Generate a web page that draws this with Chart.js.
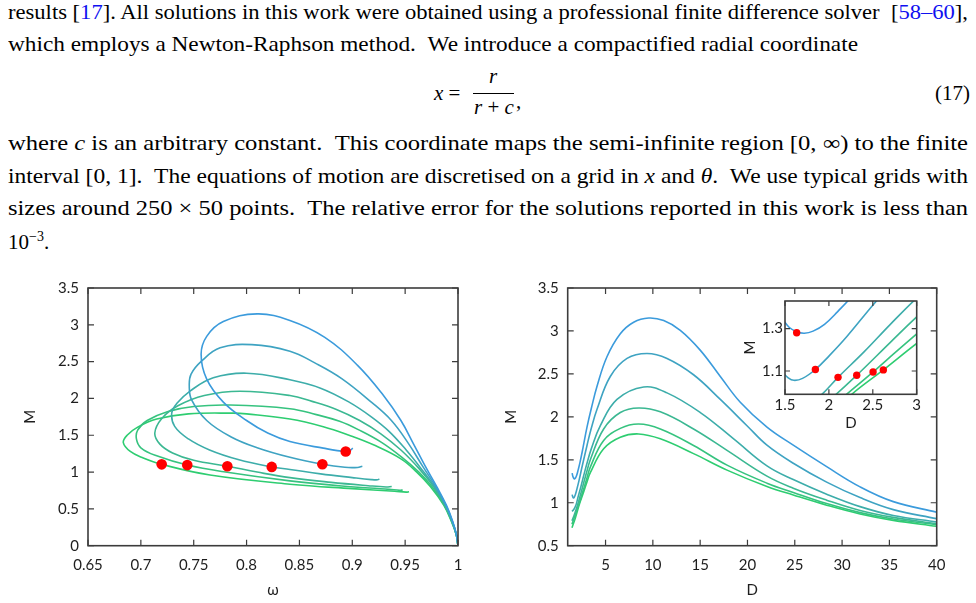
<!DOCTYPE html>
<html>
<head>
<meta charset="utf-8">
<title>M vs omega and D</title>
<script src="https://cdn.jsdelivr.net/npm/chart.js@4.4.1/dist/chart.umd.min.js"></script>
<style>
  html, body { margin: 0; padding: 0; background: #fff; }
  body { position: relative; width: 976px; height: 603px; overflow: hidden; }
  .txt { position: absolute; left: 0; top: 0; width: 976px; height: 260px;
         font-family: "Liberation Serif", "DejaVu Serif", serif; font-size: 21px; color: #000; }
  .ln { position: absolute; left: 8px; white-space: nowrap; line-height: 24px; transform-origin: 0 0; }
  .ref { color: #1010f0; }
  sup { font-size: 14px; vertical-align: 8px; line-height: 0; }
  .eq { position: absolute; white-space: nowrap; line-height: 24px; }
  .bar { position: absolute; height: 1px; background: #000; }
  canvas { position: absolute; }
</style>
</head>
<body>
<div class="txt">
  <div class="ln" data-w="960" style="top:0px">results [<span class="ref">17</span>]. All solutions in this work were obtained using a professional finite difference solver &nbsp;[<span class="ref">58–60</span>],</div>
  <div class="ln" data-w="850" style="top:32px">which employs a Newton-Raphson method. &nbsp;We introduce a compactified radial coordinate</div>

  <span class="eq" style="left:434px;top:81px"><i>x</i>&nbsp;=</span>
  <span class="eq" style="left:489px;top:64px"><i>r</i></span>
  <div class="bar" style="left:473px;top:93px;width:41px"></div>
  <span class="eq" style="left:474px;top:95px"><i>r</i> + <i>c</i></span>
  <span class="eq" style="left:516px;top:89px">,</span>
  <span class="eq" style="left:935px;top:81px">(17)</span>

  <div class="ln" data-w="960" style="top:131px">where <i>c</i> is an arbitrary constant. &nbsp;This coordinate maps the semi-infinite region [0, ∞) to the finite</div>
  <div class="ln" data-w="960" style="top:164px">interval [0, 1]. &nbsp;The equations of motion are discretised on a grid in <i>x</i> and <i>θ</i>. &nbsp;We use typical grids with</div>
  <div class="ln" data-w="960" style="top:196px">sizes around 250 × 50 points. &nbsp;The relative error for the solutions reported in this work is less than</div>
  <div class="ln" style="top:230px">10<sup>−3</sup>.</div>
</div>

<canvas id="omegaChart" width="488" height="333" style="left:0px;top:270px"></canvas>
<canvas id="dChart" width="488" height="333" style="left:488px;top:270px"></canvas>
<canvas id="insetChart" width="190" height="145" style="left:740px;top:290px"></canvas>

<script>
// six solution families, blue (top) to green (bottom)
const curveColors = ['#3b9bdc', '#3ea3c2', '#3dadaa', '#3bb892', '#36c37f', '#2ecd71'];

// M(omega), left panel: each curve runs from omega=1 up the right branch, over the top, down the lower branch
const omegaCurves = [
  [1.0, 0.9985, 0.995, 0.989, 0.98, 0.969, 0.958, 0.946, 0.929, 0.905, 0.874, 0.841, 0.81, 0.778, 0.7623, 0.757, 0.7623, 0.778, 0.80, 0.82, 0.841, 0.8726, 0.8938, 0.898, 0.9005],
  [1.0, 0.9985, 0.9948, 0.9885, 0.979, 0.9665, 0.9535, 0.937, 0.918, 0.89, 0.865, 0.841, 0.805, 0.775, 0.7576, 0.7475, 0.7458, 0.748, 0.7623, 0.785, 0.81, 0.841, 0.8717, 0.893, 0.905, 0.9095],
  [1.0, 0.9984, 0.9945, 0.988, 0.978, 0.965, 0.951, 0.935, 0.918, 0.897, 0.87, 0.841, 0.80, 0.7685, 0.7465, 0.7339, 0.7292, 0.732, 0.745, 0.765, 0.792, 0.8238, 0.841, 0.87, 0.90, 0.918, 0.924, 0.9256],
  [1.0, 0.9984, 0.9943, 0.9875, 0.977, 0.963, 0.946, 0.927, 0.907, 0.885, 0.862, 0.841, 0.7938, 0.76, 0.735, 0.72, 0.7132, 0.718, 0.73, 0.75, 0.7818, 0.81, 0.841, 0.88, 0.915, 0.932, 0.9373],
  [1.0, 0.9983, 0.994, 0.987, 0.9755, 0.963, 0.947, 0.928, 0.908, 0.888, 0.866, 0.841, 0.7842, 0.75, 0.725, 0.706, 0.697, 0.6958, 0.70, 0.715, 0.7439, 0.78, 0.841, 0.89, 0.935, 0.945, 0.9477],
  [1.0, 0.9983, 0.9938, 0.9865, 0.974, 0.961, 0.946, 0.92, 0.897, 0.8726, 0.841, 0.80, 0.7874, 0.745, 0.715, 0.697, 0.687, 0.6834, 0.69, 0.7023, 0.7197, 0.7654, 0.8411, 0.90, 0.94, 0.951, 0.9537]
];
const massOmegaCurves = [
  [0, 0.15, 0.33, 0.55, 0.80, 1.08, 1.38, 1.70, 2.05, 2.45, 2.83, 3.06, 3.148, 3.044, 2.843, 2.60, 2.262, 1.95, 1.70, 1.53, 1.415, 1.325, 1.28, 1.295, 1.325],
  [0, 0.15, 0.33, 0.55, 0.80, 1.08, 1.38, 1.70, 1.95, 2.27, 2.48, 2.642, 2.731, 2.687, 2.509, 2.33, 2.17, 1.98, 1.70, 1.48, 1.33, 1.20, 1.107, 1.065, 1.063, 1.08],
  [0, 0.15, 0.33, 0.55, 0.80, 1.05, 1.30, 1.55, 1.75, 1.95, 2.14, 2.254, 2.343, 2.28, 2.10, 1.93, 1.80, 1.62, 1.45, 1.30, 1.17, 1.07, 1.036, 0.975, 0.925, 0.898, 0.895, 0.905],
  [0, 0.15, 0.33, 0.55, 0.80, 1.05, 1.30, 1.52, 1.70, 1.85, 1.96, 2.04, 2.098, 2.04, 1.90, 1.73, 1.53, 1.38, 1.26, 1.16, 1.08, 1.0, 0.924, 0.86, 0.815, 0.798, 0.805],
  [0, 0.15, 0.33, 0.55, 0.80, 1.00, 1.20, 1.40, 1.56, 1.69, 1.78, 1.861, 1.91, 1.89, 1.82, 1.70, 1.57, 1.45, 1.33, 1.22, 1.095, 1.0, 0.88, 0.81, 0.765, 0.752, 0.757],
  [0, 0.15, 0.33, 0.55, 0.80, 1.00, 1.18, 1.37, 1.50, 1.616, 1.72, 1.79, 1.80, 1.79, 1.72, 1.61, 1.50, 1.40, 1.28, 1.191, 1.105, 0.96, 0.835, 0.775, 0.74, 0.728, 0.733]
];

// M(D), right panel and inset
const dCurves = [
  [1.47, 1.55, 1.633, 1.72, 1.82, 1.95, 2.1, 2.3, 2.6, 3.04, 3.5, 4.1, 5.15, 6.56, 7.97, 9.56, 11.15, 12.9, 15.0, 17.13, 19.24, 22.06, 24.84, 28.37, 31.9, 35.41, 40],
  [1.47, 1.53, 1.6, 1.7, 1.846, 2.0, 2.2, 2.5, 3.04, 3.5, 4.1, 5.5, 7.27, 9.38, 11.5, 14.3, 17.13, 19.95, 22.06, 24.84, 28.37, 31.9, 35.41, 40],
  [1.45, 1.6, 1.8, 1.92, 2.104, 2.4, 2.7, 3.04, 3.5, 4.45, 6.21, 9.03, 11.5, 15.02, 18.54, 22.06, 24.84, 28.37, 31.9, 35.41, 40],
  [1.45, 1.7, 2.0, 2.317, 2.7, 3.0, 3.39, 4.8, 6.56, 8.5, 10.79, 14.3, 17.84, 22.06, 24.84, 28.37, 31.9, 35.41, 40],
  [1.45, 1.8, 2.2, 2.503, 2.75, 3.0, 3.39, 4.8, 6.56, 8.5, 10.79, 14.3, 17.84, 22.06, 24.84, 28.37, 31.9, 35.41, 40],
  [1.45, 1.8, 2.26, 2.62, 3.0, 3.39, 4.8, 6.56, 8.5, 10.79, 14.3, 17.84, 22.06, 24.84, 28.37, 31.9, 35.41, 40]
];
const massDCurves = [
  [1.345, 1.305, 1.285, 1.278, 1.288, 1.32, 1.38, 1.47, 1.63, 1.88, 2.1, 2.356, 2.70, 2.968, 3.102, 3.151, 3.121, 3.007, 2.777, 2.47, 2.17, 1.88, 1.67, 1.42, 1.185, 1.013, 0.89],
  [1.095, 1.07, 1.056, 1.065, 1.107, 1.17, 1.26, 1.41, 1.667, 1.87, 2.088, 2.47, 2.68, 2.738, 2.68, 2.49, 2.203, 1.897, 1.67, 1.46, 1.24, 1.06, 0.92, 0.815],
  [0.90, 0.915, 0.955, 0.99, 1.07, 1.19, 1.32, 1.46, 1.63, 1.897, 2.203, 2.348, 2.279, 2.05, 1.744, 1.43, 1.27, 1.10, 0.955, 0.852, 0.776],
  [0.79, 0.86, 0.96, 1.08, 1.235, 1.355, 1.50, 1.859, 2.05, 2.103, 2.058, 1.859, 1.61, 1.31, 1.17, 1.03, 0.91, 0.83, 0.757],
  [0.75, 0.86, 0.99, 1.095, 1.185, 1.275, 1.415, 1.725, 1.866, 1.916, 1.859, 1.667, 1.438, 1.228, 1.12, 0.99, 0.885, 0.81, 0.743],
  [0.71, 0.82, 0.99, 1.105, 1.23, 1.35, 1.629, 1.763, 1.801, 1.744, 1.572, 1.38, 1.189, 1.09, 0.972, 0.87, 0.795, 0.726]
];

// marked solutions (red dots)
const dotOmega = [0.8938, 0.8717, 0.8238, 0.7818, 0.7439, 0.7197];
const dotD = [1.633, 1.846, 2.104, 2.317, 2.503, 2.62];
const dotMass = [1.28, 1.107, 1.07, 1.08, 1.095, 1.105];

// tick values
const omegaTicks = [0.65, 0.7, 0.75, 0.8, 0.85, 0.9, 0.95, 1];
const massTicksLeft = [0, 0.5, 1, 1.5, 2, 2.5, 3, 3.5];
const dTicks = [5, 10, 15, 20, 25, 30, 35, 40];
const massTicksRight = [0.5, 1, 1.5, 2, 2.5, 3, 3.5];
const insetDTicks = [1.5, 2, 2.5, 3];
const insetMassTicks = [1.1, 1.3];

// stretch each text line to its measured width (justified LaTeX lines)
document.querySelectorAll('.ln[data-w]').forEach(el => {
  const w = +el.dataset.w;
  const nat = el.getBoundingClientRect().width;
  el.style.transform = 'scaleX(' + (w / nat) + ')';
});

const labelFont = { family: 'Lato, "Open Sans", sans-serif', size: 15 };
const inkColor = '#1e1e1e';

// frame box + inward tick marks on all four sides
const framePlugin = {
  id: 'frame',
  beforeDatasetsDraw(chart, args, opts) {
    if (!opts.white) return;
    const a = chart.chartArea, ctx = chart.ctx;
    ctx.save();
    ctx.fillStyle = '#fff';
    ctx.fillRect(a.left, a.top, a.width, a.height);
    ctx.restore();
  },
  afterDatasetsDraw(chart, args, opts) {
    const { ctx, chartArea: a } = chart;
    const sx = chart.scales.x, sy = chart.scales.y;
    const len = opts.len || 6;
    ctx.save();
    ctx.strokeStyle = '#3c3c3c';
    ctx.lineWidth = 1.2;
    ctx.beginPath();
    sx.ticks.forEach(t => {
      const p = sx.getPixelForValue(t.value);
      ctx.moveTo(p, a.bottom); ctx.lineTo(p, a.bottom - len);
      ctx.moveTo(p, a.top); ctx.lineTo(p, a.top + len);
    });
    sy.ticks.forEach(t => {
      const p = sy.getPixelForValue(t.value);
      ctx.moveTo(a.left, p); ctx.lineTo(a.left + len, p);
      ctx.moveTo(a.right, p); ctx.lineTo(a.right - len, p);
    });
    ctx.stroke();
    ctx.lineWidth = 1.6;
    ctx.strokeRect(a.left, a.top, a.width, a.height);
    ctx.restore();
  }
};

function curveSets(xs, ys) {
  return xs.map((xa, i) => ({
    data: xa.map((v, j) => ({ x: v, y: ys[i][j] })),
    showLine: true,
    borderColor: curveColors[i],
    borderWidth: 1.6,
    pointRadius: 0,
    tension: 0.4,
    fill: false,
    order: 1
  }));
}

function dotSet(xs, ys, r) {
  return {
    data: xs.map((v, j) => ({ x: v, y: ys[j] })),
    showLine: false,
    pointRadius: r,
    pointBackgroundColor: '#ff0000',
    pointBorderWidth: 0,
    order: 0
  };
}

function axis(c) {
  return {
    type: 'linear',
    min: c.min, max: c.max,
    afterBuildTicks: s => { s.ticks = c.ticks.map(v => ({ value: v })); },
    afterFit: c.fit,
    grid: { display: false, drawTicks: false },
    border: { display: false },
    ticks: { padding: c.pad, font: labelFont, color: inkColor, autoSkip: false, maxRotation: 0, callback: v => String(v) },
    title: { display: true, text: c.title, font: labelFont, color: inkColor, padding: c.tpad }
  };
}

function makeChart(id, datasets, c) {
  return new Chart(document.getElementById(id), {
    type: 'scatter',
    data: { datasets },
    options: {
      responsive: false,
      animation: false,
      events: [],
      layout: { padding: c.layout },
      elements: { line: { capBezierPoints: false } },
      plugins: { legend: { display: false }, tooltip: { enabled: false }, frame: { len: c.len, white: c.white } },
      scales: { x: axis(c.x), y: axis(c.y) }
    },
    plugins: [framePlugin]
  });
}

makeChart('omegaChart',
  [dotSet(dotOmega, dotMass, 5.3)].concat(curveSets(omegaCurves, massOmegaCurves)), {
  layout: { left: 0, top: 14.3, right: 30, bottom: 0 },
  len: 6,
  x: { min: 0.65, max: 1, ticks: omegaTicks, pad: 10, title: 'ω', tpad: { top: 0, bottom: 4 }, fit: s => { s.height = 57.3; } },
  y: { min: 0, max: 3.5, ticks: massTicksLeft, pad: 9, title: 'M', tpad: { top: 21, bottom: 0 }, fit: s => { s.width = 88; } }
});

makeChart('dChart', curveSets(dCurves, massDCurves), {
  layout: { left: 0, top: 14.3, right: 39.3, bottom: 0 },
  len: 6,
  x: { min: 1, max: 40, ticks: dTicks, pad: 10, title: 'D', tpad: { top: 0, bottom: 4 }, fit: s => { s.height = 57.3; } },
  y: { min: 0.5, max: 3.5, ticks: massTicksRight, pad: 9, title: 'M', tpad: { top: 13.7, bottom: 0 }, fit: s => { s.width = 79.7; } }
});

makeChart('insetChart',
  [dotSet(dotD, dotMass, 3.7)].concat(curveSets(dCurves, massDCurves)), {
  layout: { left: 0, top: 9.3, right: 13.3, bottom: 0 },
  len: 5,
  white: true,
  x: { min: 1.5, max: 3, ticks: insetDTicks, pad: 2, title: 'D', tpad: { top: 0, bottom: 3.3 }, fit: s => { s.height = 40.7; } },
  y: { min: 0.99, max: 1.43, ticks: insetMassTicks, pad: 2, title: 'M', tpad: { top: 1, bottom: 0 }, fit: s => { s.width = 45; } }
});
</script>
</body>
</html>
